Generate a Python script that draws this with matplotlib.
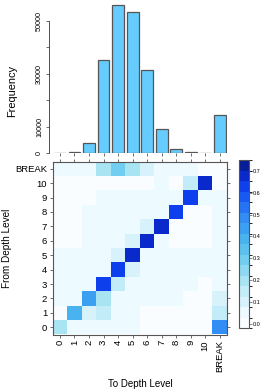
import numpy as np
import matplotlib
matplotlib.use("Agg")
import matplotlib.pyplot as plt
from matplotlib.colors import LinearSegmentedColormap, ListedColormap, BoundaryNorm

plt.rcParams['font.family'] = ['Liberation Sans', 'DejaVu Sans']

# ---- data ----
levels = ["0", "1", "2", "3", "4", "5", "6", "7", "8", "9", "10", "BREAK"]
freq = [300, 600, 4000, 35100, 55800, 53300, 31300, 9000, 1500, 400, 200, 14400]
freq_ticks = [0, 10000, 20000, 30000, 40000, 50000]
freq_ticklabels = ["0", "10000", "", "30000", "", "50000"]

# rows = from level (0..10, BREAK), cols = to level (0..10, BREAK)
trans = [
    [0.22, 0.03, 0.03, 0.03, 0.05, 0.04, 0.01, 0.01, 0.01, 0.01, 0.01, 0.50],   # 0
    [0.01, 0.37, 0.10, 0.14, 0.05, 0.04, 0.01, 0.01, 0.01, 0.01, 0.01, 0.14],   # 1
    [0.03, 0.03, 0.45, 0.20, 0.04, 0.04, 0.03, 0.03, 0.03, 0.01, 0.01, 0.12],   # 2
    [0.03, 0.03, 0.03, 0.62, 0.13, 0.06, 0.03, 0.03, 0.03, 0.03, 0.01, 0.05],   # 3
    [0.03, 0.03, 0.03, 0.03, 0.62, 0.10, 0.03, 0.03, 0.03, 0.03, 0.03, 0.05],   # 4
    [0.03, 0.03, 0.03, 0.04, 0.10, 0.68, 0.05, 0.03, 0.03, 0.03, 0.03, 0.04],   # 5
    [0.01, 0.01, 0.03, 0.03, 0.06, 0.12, 0.69, 0.06, 0.02, 0.02, 0.02, 0.05],   # 6
    [0.005, 0.005, 0.03, 0.03, 0.03, 0.06, 0.10, 0.68, 0.02, 0.02, 0.02, 0.05], # 7
    [0.005, 0.005, 0.03, 0.03, 0.03, 0.03, 0.03, 0.07, 0.61, 0.01, 0.01, 0.05], # 8
    [0.005, 0.005, 0.005, 0.03, 0.03, 0.03, 0.03, 0.03, 0.05, 0.61, 0.03, 0.05],# 9
    [0.005, 0.005, 0.005, 0.005, 0.005, 0.005, 0.005, 0.05, 0.0, 0.13, 0.69, 0.005], # 10
    [0.04, 0.04, 0.04, 0.20, 0.27, 0.21, 0.10, 0.04, 0.04, 0.04, 0.01, 0.01],   # BREAK
]
cbar_ticks = [0.0, 0.1, 0.2, 0.3, 0.4, 0.5, 0.6, 0.7]

W, H = 266, 390
fig = plt.figure(figsize=(W / 100, H / 100), dpi=100, facecolor='white')

def box(x0, y0, x1, y1):
    # pixel box (top-left origin) -> figure fraction rect
    return [x0 / W, 1 - y1 / H, (x1 - x0) / W, (y1 - y0) / H]

edge = '#555555'
n = len(levels)

# ---- histogram ----
ax1 = fig.add_axes(box(52.7, 1, 227, 153.3))
ax1.bar(np.arange(n), freq, width=0.82, color='#66ccff', edgecolor=edge, linewidth=0.9)
ax1.set_xlim(-0.5, n - 0.5)
ax1.set_ylim(0, 57400)
for s in ['top', 'right', 'bottom']:
    ax1.spines[s].set_visible(False)
ax1.spines['left'].set_bounds(0, 50000)
ax1.spines['left'].set_position(('outward', 3))
ax1.spines['left'].set_linewidth(0.6)
ax1.spines['left'].set_color('#333333')
ax1.set_xticks(np.arange(n))
ax1.set_xticklabels([])
ax1.tick_params(axis='x', length=2.5, width=0.5, color='#333333', pad=0)
ax1.set_yticks(freq_ticks)
ax1.set_yticklabels(freq_ticklabels, rotation=90, va='center', fontsize=5.2)
ax1.tick_params(axis='y', length=2.5, width=0.5, color='#333333', pad=1.5)
fig.text(12 / W, 1 - 91 / H, "Frequency", rotation=90, ha='center', va='center', fontsize=7.9)

# ---- colormap ----
lo, hi = -0.02, 0.75
nodes = [(-0.02, '#ffffff'), (0.05, '#eefaff'), (0.1, '#d8f2fb'), (0.2, '#a8e4f2'),
         (0.3, '#6fcdf0'), (0.4, '#45b0f0'), (0.5, '#2f88f5'), (0.6, '#1450f5'),
         (0.65, '#0a35e8'), (0.7, '#0a22b8'), (0.75, '#061a80')]
base = LinearSegmentedColormap.from_list('depth', [((v - lo) / (hi - lo), c) for v, c in nodes])
bounds = np.linspace(lo, hi, 17)
centers = (bounds[:-1] + bounds[1:]) / 2
cmap = ListedColormap([base((c - lo) / (hi - lo)) for c in centers])
norm = BoundaryNorm(bounds, cmap.N)

# ---- heatmap ----
ax2 = fig.add_axes(box(52.7, 161.5, 227, 334.5))
ax2.pcolormesh(np.arange(n + 1) - 0.5, np.arange(n + 1) - 0.5, np.array(trans),
               cmap=cmap, norm=norm)
ax2.set_xlim(-0.5, n - 0.5)
ax2.set_ylim(-0.5, n - 0.5)
ax2.set_xticks(np.arange(n))
ax2.set_yticks(np.arange(n))
ax2.set_xticklabels(levels, rotation=90, fontsize=6.8)
ax2.set_yticklabels(levels, fontsize=6.8)
ax2.tick_params(which='both', direction='out', length=2.5, width=0.5, color='#333333',
                top=True, right=True, pad=1.5)
for s in ax2.spines.values():
    s.set_color(edge)
    s.set_linewidth(0.8)
fig.text(140 / W, 1 - 384 / H, "To Depth Level", ha='center', va='center', fontsize=7)
fig.text(7 / W, 1 - 248 / H, "From Depth Level", rotation=90, ha='center', va='center', fontsize=7.2)

# ---- colorbar ----
cax = fig.add_axes(box(239, 160, 249, 328))
cb = fig.colorbar(plt.cm.ScalarMappable(norm=norm, cmap=cmap), cax=cax,
                  boundaries=bounds, ticks=cbar_ticks)
cb.ax.set_yticklabels(["%.1f" % t for t in cbar_ticks], fontsize=4)
cb.ax.tick_params(length=2, width=0.4, color='#333333', pad=0.8)
cb.outline.set_edgecolor(edge)
cb.outline.set_linewidth(0.8)

fig.savefig("out.png", dpi=100, facecolor='white')
